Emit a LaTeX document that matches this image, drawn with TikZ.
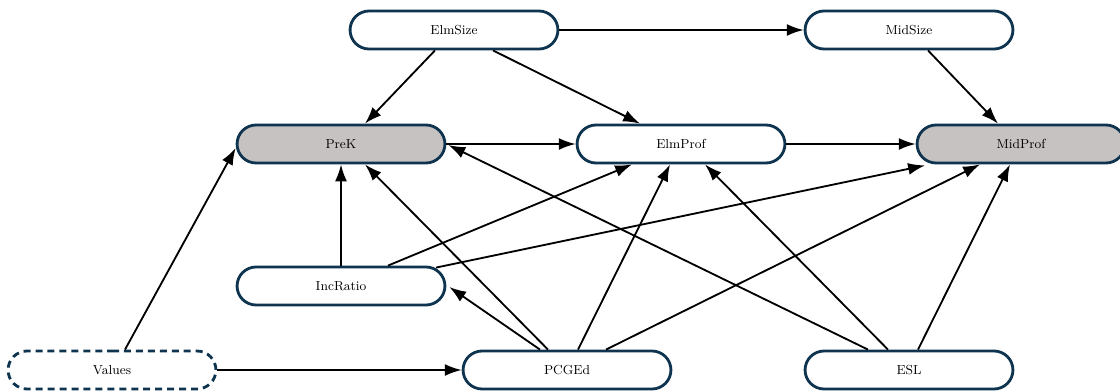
\documentclass[tikz,border=0pt]{standalone}
\usepackage{tikz}
\usetikzlibrary{arrows.meta,shapes.misc,calc}

\definecolor{nodeblue}{RGB}{14,52,80}
\definecolor{obsgray}{RGB}{198,194,193}

\begin{document}
\begin{tikzpicture}
[x=0.025cm,y=-0.025cm,>={Latex[length=12pt,width=8.5pt]}]
\tikzset{
	var/.style = {rounded rectangle, draw=nodeblue, line width=2pt, fill=white,
		minimum width=5.43cm, minimum height=0.95cm, font=\fontsize{9.3}{11}\selectfont},
	outcome/.style = {var, fill=obsgray},
	latent/.style = {var, dash pattern=on 5pt off 3.5pt},
	path/.style = {->, line width=1.3pt}
}
\useasboundingbox (0,0) rectangle (1120,390);

% top row
\node (ElmSize) [var] at (454,30) {ElmSize};
\node (MidSize) [var] at (909,30) {MidSize};
% outcomes
\node (PreK) [outcome] at (341,144) {PreK};
\node (ElmProf) [var] at (681,144) {ElmProf};
\node (MidProf) [outcome] at (1021,144) {MidProf};
% covariates
\node (IncRatio) [var] at (341,286) {IncRatio};
\node (Values) [latent] at (112,370) {Values};
\node (PCGEd) [var] at (567,370) {PCGEd};
\node (ESL) [var] at (909,370) {ESL};

\draw [path] (ElmSize.east) -- (MidSize.west);
\draw [path] ($(ElmSize.south)+(-19,0)$) -- ($(PreK.north)+(24,0)$);
\draw [path] ($(ElmSize.south)+(39,0)$) -- ($(ElmProf.north)+(-41,0)$);
\draw [path] ($(MidSize.south)+(19,0)$) -- ($(MidProf.north)+(-23,0)$);
\draw [path] (PreK.east) -- (ElmProf.west);
\draw [path] (ElmProf.east) -- (MidProf.west);

\draw [path] (IncRatio.north) -- (PreK.south);
\draw [path] ($(IncRatio.north)+(47,0)$) -- ($(ElmProf.south)+(-49,0)$);
\draw [path] ($(IncRatio.north)+(95,2)$) -- ($(MidProf.south)+(-96,1)$);

\draw [path] ($(PCGEd.north)+(-27,0)$) -- ($(IncRatio.east)+(3,1)$);
\draw [path] ($(PCGEd.north)+(-19,0)$) -- ($(PreK.south)+(24,0)$);
\draw [path] ($(PCGEd.north)+(11,0)$) -- ($(ElmProf.south)+(-11,0)$);
\draw [path] ($(PCGEd.north)+(39,0)$) -- ($(MidProf.south)+(-41,0)$);

\draw [path] ($(ESL.north)+(-41,0)$) -- ($(PreK.east)+(2,1)$);
\draw [path] ($(ESL.north)+(-21,0)$) -- ($(ElmProf.south)+(24,0)$);
\draw [path] ($(ESL.north)+(9,0)$) -- ($(MidProf.south)+(-11,0)$);

\draw [path] ($(Values.north)+(13,0)$) -- ($(PreK.west)+(0,4)$);
\draw [path] (Values.east) -- (PCGEd.west);
\end{tikzpicture}
\end{document}
